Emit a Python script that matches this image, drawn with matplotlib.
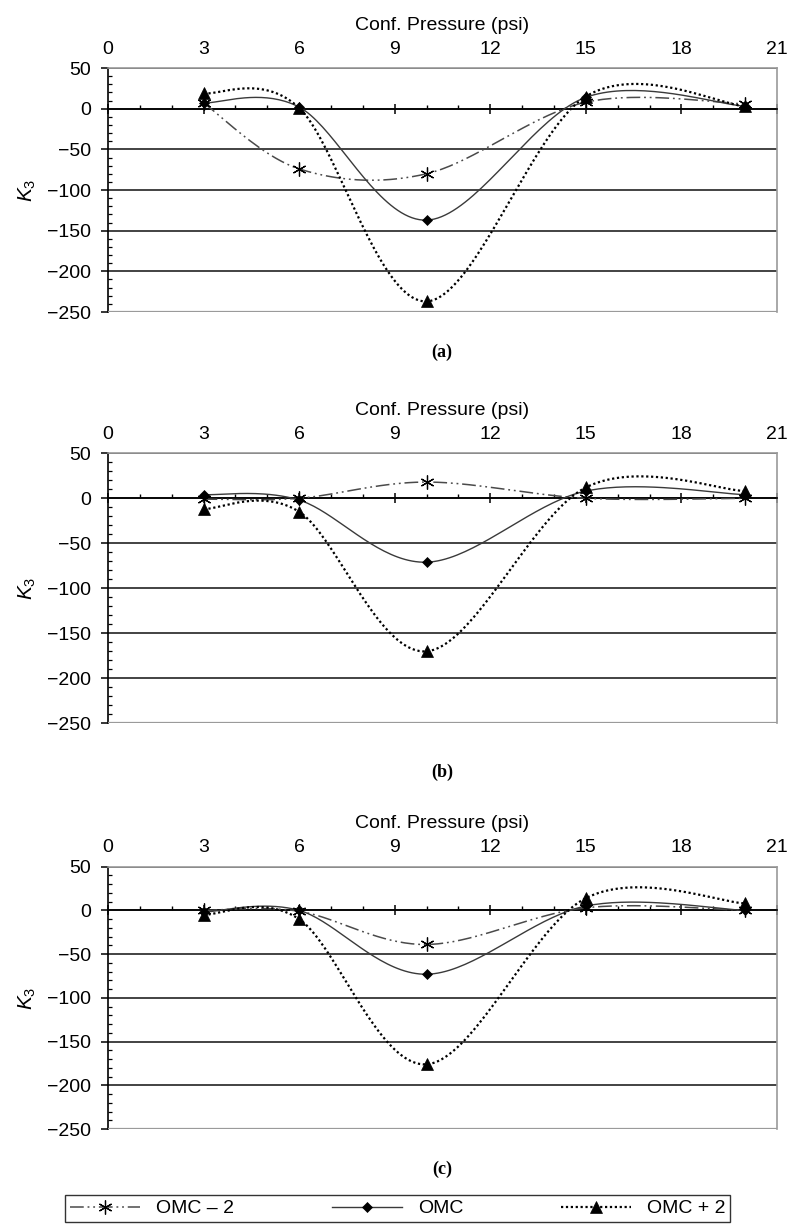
import numpy as np
import matplotlib.pyplot as plt
from matplotlib.ticker import MultipleLocator

plt.rcParams['font.family'] = ['Liberation Sans', 'DejaVu Sans']
plt.rcParams['mathtext.fontset'] = 'custom'
plt.rcParams['mathtext.rm'] = 'Liberation Sans'
plt.rcParams['mathtext.it'] = 'Liberation Sans:italic'

# confining pressure (psi)
pressure = [3, 6, 10, 15, 20]

# K3 values, panel (a), (b), (c)
a_omc_m2 = [7, -74, -80, 8, 6]
a_omc = [7, 2, -137, 14, 3]
a_omc_p2 = [19, 1, -237, 15, 3]

b_omc_m2 = [-1, 0, 18, 0, 0]
b_omc = [4, -2, -71, 8, 4]
b_omc_p2 = [-12, -15, -170, 12, 8]

c_omc_m2 = [0, -1, -39, 3, 0]
c_omc = [-2, 0, -73, 5, 0]
c_omc_p2 = [-5, -10, -176, 14, 8]

panels = [
    ("(a)", a_omc_m2, a_omc, a_omc_p2),
    ("(b)", b_omc_m2, b_omc, b_omc_p2),
    ("(c)", c_omc_m2, c_omc, c_omc_p2),
]

# axes boxes in figure fractions [left, bottom, width, height]
boxes = [
    [0.1372, 0.7455, 0.8501, 0.1990],
    [0.1372, 0.4100, 0.8501, 0.2203],
    [0.1372, 0.0791, 0.8501, 0.2140],
]
caption_y = [0.7129, 0.3703, 0.0465]


def smooth(x, y, n=40):
    # excel-like smoothed line (bezier through the points)
    p = np.column_stack([x, y]).astype(float)
    pts = np.vstack([p[0], p, p[-1]])
    out = []
    t = np.linspace(0, 1, n)[:, None]
    for i in range(1, len(pts) - 2):
        p0, p1, p2, p3 = pts[i - 1], pts[i], pts[i + 1], pts[i + 2]
        c1 = p1 + (p2 - p0) / 6
        c2 = p2 - (p3 - p1) / 6
        seg = (1 - t) ** 3 * p1 + 3 * (1 - t) ** 2 * t * c1 + 3 * (1 - t) * t ** 2 * c2 + t ** 3 * p2
        out.append(seg if i == 1 else seg[1:])
    s = np.vstack(out)
    return s[:, 0], s[:, 1]


styles = [
    dict(label="OMC \u2013 2", color="#4a4a4a", lw=1.1, ls=(0, (9, 2.5, 1.2, 2.5, 1.2, 2.5)),
         marker=(6, 2, 0), ms=10, mew=0.9),
    dict(label="OMC", color="#3a3a3a", lw=1.0, ls="-", marker="D", ms=5, mew=0.5),
    dict(label="OMC + 2", color="black", lw=1.6, ls=(0, (1, 1.2)), marker="^", ms=8, mew=0.5),
]

fig = plt.figure(figsize=(7.87, 12.26), dpi=100)

handles = []
for (cap, *series), box, cy in zip(panels, boxes, caption_y):
    ax = fig.add_axes(box)
    ax.set_xlim(0, 21)
    ax.set_ylim(-250, 50)
    ax.set_axisbelow(True)
    ax.yaxis.grid(True, color="#222222", lw=1.2)

    for vals, st in zip(series, styles):
        xs, ys = smooth(pressure, vals)
        ax.plot(xs, ys, color=st["color"], lw=st["lw"], ls=st["ls"], zorder=3)
        ax.plot(pressure, vals, ls="none", marker=st["marker"], ms=st["ms"],
                mew=st["mew"], color="black", mec="black", zorder=4)

    # spines
    ax.spines["bottom"].set_position(("data", 0))
    ax.spines["bottom"].set_color("black")
    ax.spines["bottom"].set_linewidth(1.2)
    ax.spines["left"].set_color("black")
    ax.spines["left"].set_linewidth(1.2)
    for s in ["top", "right"]:
        ax.spines[s].set_color("#9a9a9a")
        ax.spines[s].set_linewidth(1.2)
    ax.axhline(-250, color="#9a9a9a", lw=1.6, zorder=2.6)

    ax.xaxis.set_major_locator(MultipleLocator(3))
    ax.xaxis.set_minor_locator(MultipleLocator(1))
    ax.yaxis.set_major_locator(MultipleLocator(50))
    ax.yaxis.set_minor_locator(MultipleLocator(10))

    ax.tick_params(axis="x", which="major", direction="inout", length=7, width=1.1,
                   bottom=True, top=False, labelbottom=False, labeltop=True,
                   labelsize=14, pad=4)
    ax.tick_params(axis="x", which="minor", direction="in", length=3, width=1.0,
                   bottom=True, top=False)
    ax.tick_params(axis="y", which="major", direction="out", length=5, width=1.1,
                   labelsize=14, pad=7)
    ax.tick_params(axis="y", which="minor", direction="in", length=3, width=0.9)

    ax.xaxis.set_label_position("top")
    ax.set_xlabel("Conf. Pressure (psi)", fontsize=14, labelpad=8)
    ax.set_ylabel(r"$K_3$", fontsize=15)
    ax.yaxis.set_label_coords(-0.105, 0.5)

    fig.text(0.5616, cy, cap, ha="center", va="center", fontsize=13,
             family="Liberation Serif", weight="bold")

for st in styles:
    h, = plt.plot([], [], color=st["color"], lw=st["lw"], ls=st["ls"],
                  marker=st["marker"], ms=st["ms"], mew=st["mew"],
                  mfc="black", mec="black", label=st["label"])
    handles.append(h)

leg = fig.legend(handles=handles, loc="lower left", ncol=3, mode="expand",
                 bbox_to_anchor=(0.083, 0.003, 0.845, 0.026), fontsize=14,
                 frameon=True, fancybox=False, handlelength=3.6,
                 borderaxespad=0, handletextpad=0.8, borderpad=0.25)
leg.get_frame().set_edgecolor("black")
leg.get_frame().set_linewidth(1.0)

fig.savefig("out.png", dpi=100)
